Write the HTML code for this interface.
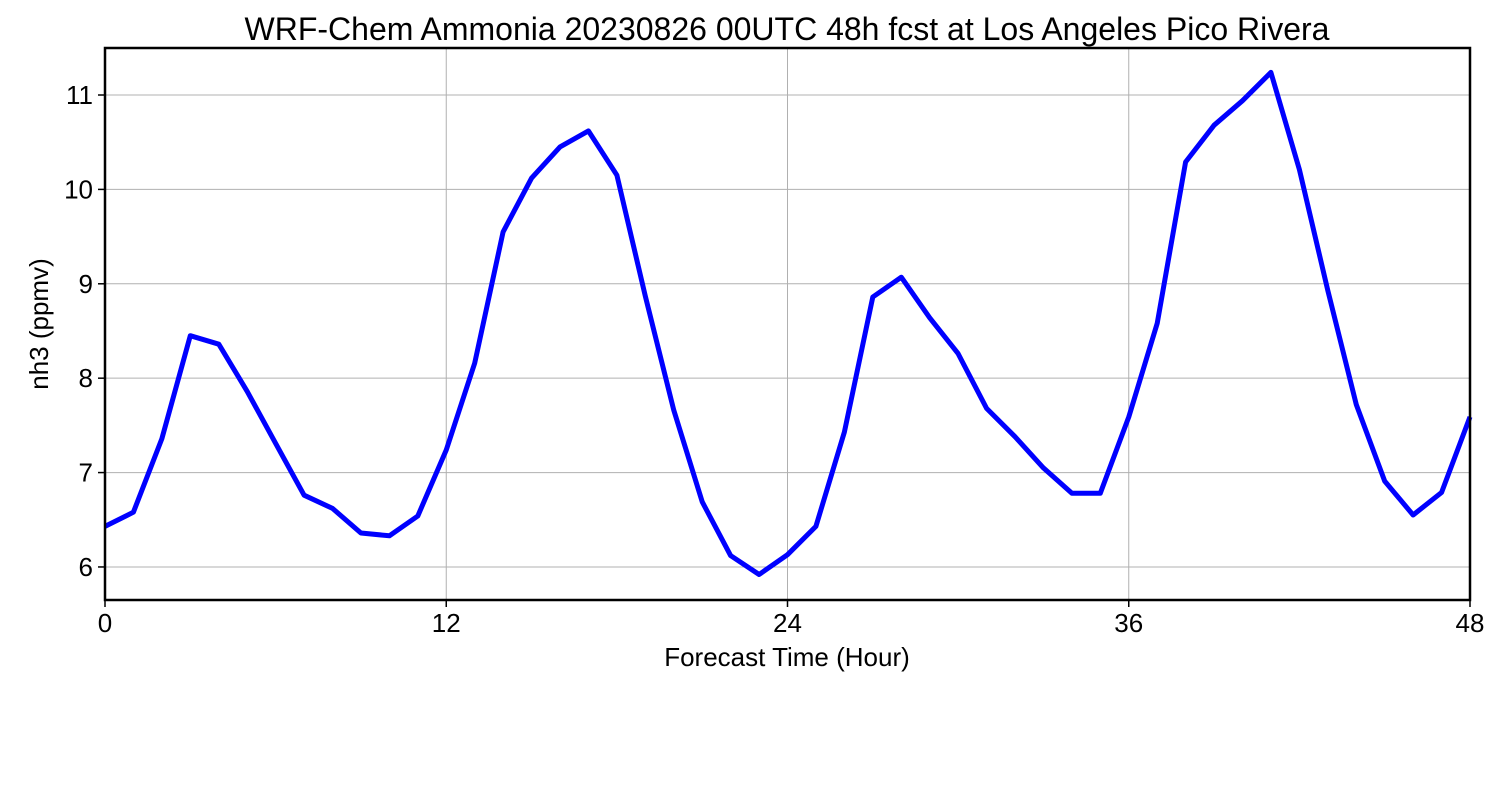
<!DOCTYPE html>
<html><head><meta charset="utf-8"><style>
html,body{margin:0;padding:0;background:#fff;width:1500px;height:800px;overflow:hidden}
text{font-family:"Liberation Sans","DejaVu Sans",sans-serif;fill:#000}
</style></head><body>
<svg id="chart" width="1500" height="800" xmlns="http://www.w3.org/2000/svg">
<text x="787" y="40" font-size="32" text-anchor="middle">WRF-Chem Ammonia  20230826 00UTC 48h fcst at Los Angeles Pico Rivera</text>
<g id="grid"></g>
<g id="ticks"></g>
<path id="line" fill="none" stroke="#0000ff" stroke-width="5" stroke-linejoin="round"/>
<rect x="105" y="48" width="1365" height="552" fill="none" stroke="#000" stroke-width="2.5"/>
<text x="787" y="666" font-size="26" text-anchor="middle">Forecast Time (Hour)</text>
<text transform="translate(48,324) rotate(-90)" font-size="26" text-anchor="middle">nh3  (ppmv)</text>
</svg>
<script>
const hours = [];
for (let h = 0; h <= 48; h++) hours.push(h);
const values = [6.43,6.58,7.36,8.45,8.36,7.86,7.31,6.76,6.62,6.36,6.33,6.54,7.24,8.16,9.55,10.12,10.45,10.62,10.15,8.87,7.66,6.69,6.12,5.92,6.13,6.43,7.43,8.86,9.07,8.64,8.26,7.68,7.38,7.05,6.78,6.78,7.59,8.58,10.29,10.68,10.94,11.24,10.21,8.93,7.72,6.91,6.55,6.79,7.59];
const xTicks = [0,12,24,36,48];
const yTicks = [6,7,8,9,10,11];
const X0=105,X1=1470,Y0=600,Y1=48,xmin=0,xmax=48,ymin=5.65,ymax=11.498;
const sx=v=>X0+(v-xmin)/(xmax-xmin)*(X1-X0);
const sy=v=>Y0-(v-ymin)/(ymax-ymin)*(Y0-Y1);
const NS="http://www.w3.org/2000/svg";
const grid=document.getElementById('grid'), ticks=document.getElementById('ticks');
function mk(tag,attrs,parent){const e=document.createElementNS(NS,tag);for(const k in attrs)e.setAttribute(k,attrs[k]);parent.appendChild(e);return e;}
xTicks.forEach(t=>{
  const x=sx(t);
  const g=mk('line',{x1:x,x2:x,y1:Y1,y2:Y0,stroke:'#b0b0b0','stroke-width':1},grid);
  
  
  const tk=mk('line',{x1:x,x2:x,y1:Y0,y2:Y0+7,stroke:'#000','stroke-width':1.5},ticks);
  
  
  const tx=mk('text',{x:x,y:632,'font-size':26,'text-anchor':'middle'},ticks);
  tx.textContent=t;
  
  
});
yTicks.forEach(t=>{
  const y=sy(t);
  const g=mk('line',{x1:X0,x2:X1,y1:y,y2:y,stroke:'#b0b0b0','stroke-width':1},grid);
  
  
  const tk=mk('line',{x1:X0-7,x2:X0,y1:y,y2:y,stroke:'#000','stroke-width':1.5},ticks);
  
  
  const tx=mk('text',{x:X0-12,y:y+9,'font-size':26,'text-anchor':'end'},ticks);
  tx.textContent=t;
  
  
});
document.getElementById('line').setAttribute('d',hours.map((h,i)=>(i?'L':'M')+sx(h).toFixed(1)+','+sy(values[i]).toFixed(1)).join(''));
</script>
</body></html>
